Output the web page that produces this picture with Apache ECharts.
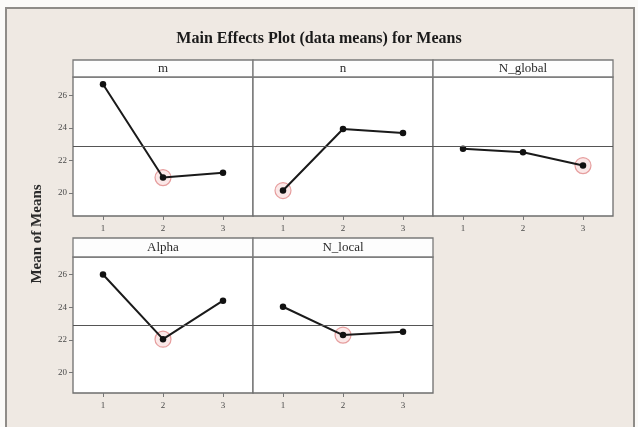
<!DOCTYPE html>
<html>
<head>
<meta charset="utf-8">
<script src="https://cdn.jsdelivr.net/npm/echarts@6/dist/echarts.min.js"></script>
<style>
  html, body { margin: 0; padding: 0; background: #fbfaf8; }
  #chart { width: 638px; height: 427px; }
</style>
</head>
<body>
<div id="chart"></div>
<script>
// Factor levels and the mean response at each level
const levels = ['1', '2', '3'];
const factorNames = ['m', 'n', 'N_global', 'Alpha', 'N_local'];
const meansM = [26.7, 20.95, 21.25];
const meansN = [20.15, 23.94, 23.7];
const meansNGlobal = [22.72, 22.51, 21.69];
const meansAlpha = [26.0, 22.05, 24.4];
const meansNLocal = [24.03, 22.3, 22.5];
const grandMean = 22.9;
const yTicks = [20, 22, 24, 26];
const chartTitle = 'Main Effects Plot (data means) for Means';
const yAxisTitle = 'Mean of Means';

const factorMeans = [meansM, meansN, meansNGlobal, meansAlpha, meansNLocal];

// Panel layout (pixels)
const colLeft = [73, 253, 433];
const panelW = 180;
const rows = [
  { headTop: 60, top: 77, bottom: 216, min: 18.58, max: 27.15 },
  { headTop: 238, top: 257, bottom: 393, min: 18.76, max: 27.07 }
];
const cells = [
  { col: 0, row: 0 }, { col: 1, row: 0 }, { col: 2, row: 0 },
  { col: 0, row: 1 }, { col: 1, row: 1 }
];

const serif = '"Liberation Serif", "DejaVu Serif", serif';
const grids = [], xAxes = [], yAxes = [], series = [];
const graphics = [
  { type: 'rect', z: -10, shape: { x: 6, y: 8, width: 628, height: 430 },
    style: { fill: '#efe9e3', stroke: '#8f8c88', lineWidth: 2 } },
  { type: 'text', left: 'center', top: 31,
    style: { text: chartTitle, font: 'bold 16px ' + serif, fill: '#1a1a1a' } },
  { type: 'text', x: 37, y: 234, rotation: Math.PI / 2,
    style: { text: yAxisTitle, font: 'bold 15px ' + serif, fill: '#2a2a2a',
             align: 'center', verticalAlign: 'middle' } }
];

cells.forEach((c, i) => {
  const r = rows[c.row];
  const left = colLeft[c.col];
  grids.push({
    left: left, top: r.top, width: panelW, height: r.bottom - r.top,
    show: true, backgroundColor: '#ffffff', borderColor: '#6e6e6e', borderWidth: 1.3
  });
  // strip header with the factor name
  graphics.push({
    type: 'rect', z: 5, shape: { x: left, y: r.headTop, width: panelW, height: r.top - r.headTop },
    style: { fill: '#fdfdfd', stroke: '#7a7a7a', lineWidth: 1.3 }
  });
  graphics.push({
    type: 'text', z: 6, x: left + panelW / 2, y: r.headTop + (r.top - r.headTop) / 2 + 0.5,
    style: { text: factorNames[i], font: '13px ' + serif, fill: '#2a2a2a',
             align: 'center', verticalAlign: 'middle' }
  });
  xAxes.push({
    gridIndex: i, type: 'category', data: levels, boundaryGap: true,
    axisLine: { show: false },
    axisTick: { show: true, alignWithLabel: true, length: 4, lineStyle: { color: '#777' } },
    axisLabel: { fontSize: 9, color: '#4a4a4a', margin: 8, fontFamily: serif },
    splitLine: { show: false }
  });
  const showY = c.col === 0;
  yAxes.push({
    gridIndex: i, type: 'value', min: r.min, max: r.max,
    axisLine: { show: false },
    splitLine: { show: false },
    axisTick: { show: showY, customValues: yTicks, length: 4, lineStyle: { color: '#777' } },
    axisLabel: { show: showY, customValues: yTicks, fontSize: 9, color: '#4a4a4a', margin: 6, fontFamily: serif }
  });
  const vals = factorMeans[i];
  let minIdx = 0;
  vals.forEach((v, k) => { if (v < vals[minIdx]) minIdx = k; });
  series.push({
    type: 'scatter', xAxisIndex: i, yAxisIndex: i, z: 1, silent: true,
    data: [[minIdx, vals[minIdx]]], symbolSize: 16,
    itemStyle: { color: 'rgba(240,165,165,0.32)', borderColor: '#e08888', borderWidth: 1.2 }
  });
  series.push({
    type: 'line', xAxisIndex: i, yAxisIndex: i, z: 3, silent: true,
    data: vals, symbol: 'circle', symbolSize: 6.5,
    itemStyle: { color: '#111' }, lineStyle: { color: '#1a1a1a', width: 2 },
    markLine: {
      silent: true, symbol: ['none', 'none'], label: { show: false },
      lineStyle: { color: '#555', width: 1.2, type: 'solid' },
      data: [{ yAxis: grandMean }]
    }
  });
});

const chart = echarts.init(document.getElementById('chart'), null, { renderer: 'canvas' });
chart.setOption({
  animation: false,
  backgroundColor: '#fbfaf8',
  grid: grids, xAxis: xAxes, yAxis: yAxes, series: series,
  graphic: graphics
});
</script>
</body>
</html>
